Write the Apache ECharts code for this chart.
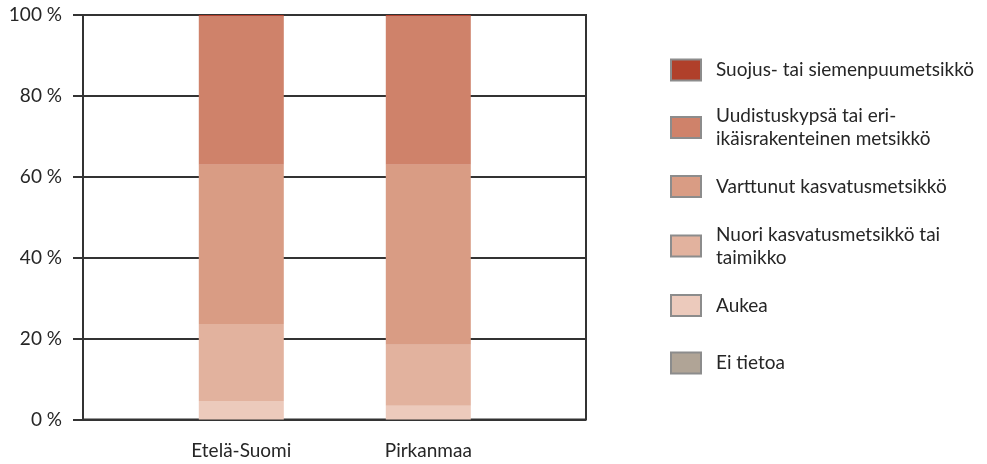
<!DOCTYPE html>
<html>
<head>
<meta charset="utf-8">
<script src="https://cdn.jsdelivr.net/npm/echarts@6/dist/echarts.min.js"></script>
<style>
  html, body { margin: 0; padding: 0; background: #fff; }
  #chart { width: 987px; height: 464px; }
</style>
</head>
<body>
<div id="chart"></div>
<script>
// Regions on the x axis
const categories = ['Etelä-Suomi', 'Pirkanmaa'];

// Development classes, bottom of the stack first (share of area, %)
const seriesNames = [
  'Ei tietoa',
  'Aukea',
  'Nuori kasvatusmetsikkö tai\ntaimikko',
  'Varttunut kasvatusmetsikkö',
  'Uudistuskypsä tai eri-\nikäisrakenteinen metsikkö',
  'Suojus- tai siemenpuumetsikkö'
];
const eiTietoa     = [0.0, 0.0];
const aukea        = [4.6, 3.4];
const nuori        = [19.0, 15.1];
const varttunut    = [39.4, 44.5];
const uudistus     = [36.6, 36.6];
const suojus       = [0.4, 0.4];
const seriesValues = [eiTietoa, aukea, nuori, varttunut, uudistus, suojus];
const seriesColors = ['#b0a496', '#eccabc', '#e2b29e', '#d99c84', '#cf826a', '#b0402a'];

// Legend order, top to bottom
const legendOrder = [5, 4, 3, 2, 1, 0];
const yTicks = [0, 20, 40, 60, 80, 100];

const FONT = 'Lato';
const FONT_SIZE = 19;
const TEXT = '#262626';
const LINE = '#333333';

const chart = echarts.init(document.getElementById('chart'), null, { renderer: 'canvas' });

const series = seriesNames.map((name, i) => ({
  name: name,
  type: 'bar',
  stack: 'total',
  xAxisIndex: 1,
  yAxisIndex: 1,
  barWidth: 85,
  itemStyle: { color: seriesColors[i] },
  emphasis: { disabled: true },
  data: seriesValues[i]
}));

// One legend block per class so rows are evenly spaced
const rowCenters = [70, 127.5, 186.5, 246, 305.5, 363];
const legends = legendOrder.map((si, row) => {
  const lines = seriesNames[si].split('\n').length;
  const boxH = lines * 23;
  return {
    data: [seriesNames[si]],
    orient: 'vertical',
    left: 670,
    top: rowCenters[row] - boxH / 2,
    padding: 0,
    itemWidth: 30,
    itemHeight: 21,
    itemGap: 0,
    selectedMode: false,
    icon: 'rect',
    itemStyle: { borderColor: '#8c8c8c', borderWidth: 2 },
    textStyle: { fontFamily: FONT, fontSize: FONT_SIZE, color: TEXT, lineHeight: 23, padding: [0, 0, 0, 10] }
  };
});

chart.setOption({
  animation: false,
  backgroundColor: '#ffffff',
  legend: legends,
  grid: [
    { left: 83, right: 401, top: 15, bottom: 44.5, show: true, borderColor: LINE, borderWidth: 2, backgroundColor: 'transparent' },
    { left: 147.8, right: 465.2, top: 15, bottom: 44.5 }
  ],
  xAxis: [
    { gridIndex: 0, type: 'value', min: 0, max: 1, show: false },
    {
      gridIndex: 1, type: 'category', data: categories,
      axisLine: { show: false }, axisTick: { show: false },
      axisLabel: { fontFamily: FONT, fontSize: FONT_SIZE, color: TEXT, margin: 22 }
    }
  ],
  yAxis: [
    {
      gridIndex: 0, type: 'value', min: 0, max: 100, interval: 20,
      axisLine: { show: true, lineStyle: { color: LINE, width: 2 } },
      axisTick: { show: true, length: 10, lineStyle: { color: LINE, width: 2 } },
      splitLine: { show: true, lineStyle: { color: LINE, width: 2 } },
      axisLabel: {
        fontFamily: FONT, fontSize: FONT_SIZE, color: TEXT, margin: 21,
        formatter: v => yTicks.includes(v) ? v + ' %' : ''
      }
    },
    { gridIndex: 1, type: 'value', min: 0, max: 100, show: false }
  ],
  series: series
});
</script>
</body>
</html>
